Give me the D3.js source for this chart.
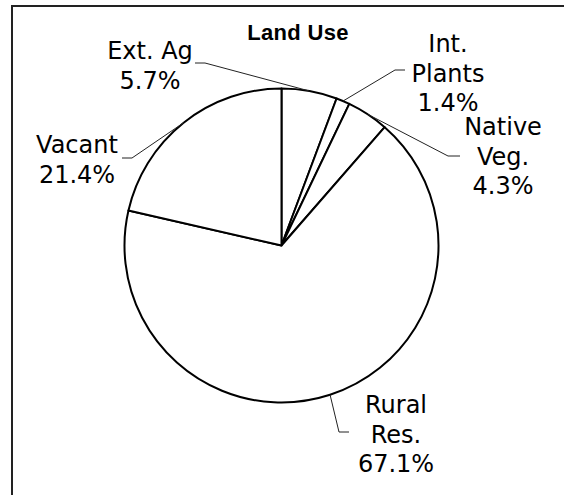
<!DOCTYPE html>
<html>
<head>
<meta charset="utf-8">
<script src="https://cdn.jsdelivr.net/npm/d3@7"></script>
<style>
  html, body { margin: 0; padding: 0; background: #fff; }
  svg { display: block; }
</style>
</head>
<body>
<svg id="chart" width="564" height="495"></svg>
<script>
// ---- data ----
const title = "Land Use";
const categories = ["Ext. Ag", "Int. Plants", "Native Veg.", "Rural Res.", "Vacant"];
const labelLines = [["Ext. Ag"], ["Int.", "Plants"], ["Native", "Veg."], ["Rural", "Res."], ["Vacant"]];
const values = [5.7, 1.4, 4.3, 67.1, 21.4];

// ---- layout (label placement, not data) ----
const labelCenter = [[150, 59], [448, 52], [503, 135], [396, 413], [77, 153]];
const elbow = [[[205, 63], [195, 63]], [[395, 70], [405, 70]], [[448, 156], [460, 156]], [[339, 432], [349, 432]], [[132, 158], [122, 158]]];

const svg = d3.select("#chart");
const W = 564, H = 495;
const cx = 281.5, cy = 245.5, R = 157;

svg.append("rect").attr("width", W).attr("height", H).attr("fill", "#fff");

// frame (clipped at right / bottom like the reference)
svg.append("rect")
  .attr("x", 12).attr("y", 6).attr("width", 700).attr("height", 700)
  .attr("fill", "none").attr("stroke", "#222").attr("stroke-width", 2);

svg.append("text")
  .attr("x", 298).attr("y", 40)
  .attr("text-anchor", "middle")
  .attr("font-family", "'Liberation Sans', Arial, sans-serif")
  .attr("font-weight", "bold")
  .attr("font-size", 22)
  .attr("letter-spacing", 0.3)
  .attr("fill", "#000")
  .text(title);

const data = categories.map((c, i) => ({ name: c, value: values[i], lines: labelLines[i], i }));
const pie = d3.pie().value(d => d.value).sort(null);
const arcs = pie(data);
const arc = d3.arc().innerRadius(0).outerRadius(R);

const g = svg.append("g").attr("transform", `translate(${cx},${cy})`);
g.selectAll("path.slice")
  .data(arcs)
  .join("path")
  .attr("class", "slice")
  .attr("d", arc)
  .attr("fill", "#fff")
  .attr("stroke", "#000")
  .attr("stroke-width", 2)
  .attr("stroke-linejoin", "round");

// leader lines from mid-angle on the rim
const line = d3.line();
arcs.forEach((a, i) => {
  const mid = (a.startAngle + a.endAngle) / 2;
  const p0 = [cx + R * Math.sin(mid), cy - R * Math.cos(mid)];
  const pts = [p0, elbow[i][0], elbow[i][1]];
  svg.append("path")
    .attr("d", line(pts))
    .attr("fill", "none")
    .attr("stroke", "#222")
    .attr("stroke-width", 1);
});

// labels
const lh = 29.5;
arcs.forEach((a, i) => {
  const d = a.data;
  const lines = d.lines.concat([d3.format(".1f")(d.value) + "%"]);
  const t = svg.append("text")
    .attr("text-anchor", "middle")
    .attr("font-family", "'DejaVu Sans', Verdana, sans-serif")
    .attr("font-size", 24)
    .attr("fill", "#000");
  lines.forEach((s, k) => {
    t.append("tspan")
      .attr("x", labelCenter[i][0])
      .attr("y", labelCenter[i][1] + k * lh)
      .text(s);
  });
});
</script>
</body>
</html>
